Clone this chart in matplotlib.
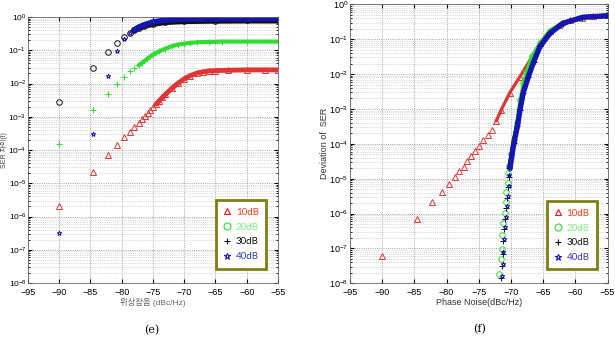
import numpy as np
import matplotlib.pyplot as plt
from matplotlib.lines import Line2D
from matplotlib.ticker import LogLocator, NullFormatter

plt.rcParams['font.family'] = ['Liberation Sans', 'Noto Sans CJK KR', 'DejaVu Sans']
plt.rcParams['mathtext.default'] = 'regular'

# ---------------- data ----------------
labels = ['10dB', '20dB', '30dB', '40dB']
x_ticks = [-95, -90, -85, -80, -75, -70, -65, -60, -55]

# (e) SER difference
e_x_10 = [-90, -84.6, -82.2, -80.7, -79.6, -78.7, -78.0, -77.3, -76.8, -76.3, -75.8, -75.4,
          -75.0, -74.5, -74.0, -73.5, -73.0, -72.0, -71.0, -70.0, -69.0, -68.0, -67.0, -66.0,
          -65.0, -63.0, -60.0, -57.0, -55.0]
e_y_10 = [2.1e-6, 2.2e-5, 7.1e-5, 1.4e-4, 2.4e-4, 3.4e-4, 4.8e-4, 6.6e-4, 8.3e-4, 1.05e-3, 1.3e-3, 1.6e-3,
          1.9e-3, 2.4e-3, 3.0e-3, 3.8e-3, 4.7e-3, 7.1e-3, 1.02e-2, 1.38e-2, 1.74e-2, 2.04e-2, 2.24e-2, 2.4e-2,
          2.45e-2, 2.5e-2, 2.57e-2, 2.57e-2, 2.57e-2]
e_x_20 = [-90, -84.6, -82.2, -80.7, -79.6, -78.7, -78.0, -77.3, -76.8, -76.0, -75.0, -74.0,
          -73.0, -72.0, -71.0, -70.0, -69.0, -68.0, -66.0, -64.0, -60.0, -55.0]
e_y_20 = [1.5e-4, 1.6e-3, 4.8e-3, 1.0e-2, 1.55e-2, 2.3e-2, 2.9e-2, 3.5e-2, 4.1e-2, 5.4e-2, 7.4e-2, 9.3e-2,
          0.112, 0.132, 0.148, 0.158, 0.166, 0.174, 0.178, 0.182, 0.182, 0.182]
e_x_30 = [-90, -84.6, -82.2, -80.7, -79.6, -78.7, -78.0, -77.3, -76.5, -75.0, -73.0, -70.0, -65.0, -60.0, -55.0]
e_y_30 = [2.8e-3, 2.9e-2, 8.7e-2, 0.162, 0.245, 0.33, 0.40, 0.47, 0.54, 0.63, 0.71, 0.76, 0.78, 0.79, 0.79]
e_x_40 = [-90, -84.6, -82.2, -80.7, -79.6, -78.7, -78.0, -77.3, -76.5, -75.0, -73.0, -70.0, -65.0, -60.0, -55.0]
e_y_40 = [3.3e-7, 3.0e-4, 1.7e-2, 9.5e-2, 0.224, 0.324, 0.41, 0.49, 0.575, 0.71, 0.81, 0.87, 0.89, 0.89, 0.89]

# (f) deviation of SER
f_x_10 = [-90, -84.6, -82.2, -80.7, -79.6, -78.7, -78.0, -77.3, -76.8, -76.2, -75.6, -75.0,
          -74.3, -73.6, -73.0, -72.3, -71.5, -70.2, -68.6, -67.0, -65.5, -64.0, -62.5, -60.8,
          -59.0, -57.3, -55.0]
f_y_10 = [6.0e-8, 7.1e-7, 2.1e-6, 4.2e-6, 7.2e-6, 1.12e-5, 1.62e-5, 2.2e-5, 3.2e-5, 4.5e-5, 6.3e-5, 8.9e-5,
          1.32e-4, 1.82e-4, 2.5e-4, 4.5e-4, 9.5e-4, 2.9e-3, 8.5e-3, 2.6e-2, 7.8e-2, 0.178, 0.263, 0.347,
          0.417, 0.468, 0.50]
f_x_20 = [-71.8, -71.6, -71.45, -71.4, -71.2, -71.0, -70.8, -70.7, -70.5, -70.4, -70.3, -70.0,
          -69.6, -69.1, -68.6, -68.1, -67.6, -66.8, -65.5, -64.0, -62.0, -59.0, -55.0]
f_y_20 = [1.86e-8, 4.8e-8, 9.8e-8, 2.5e-7, 5.4e-7, 1.05e-6, 2.1e-6, 4.1e-6, 7.6e-6, 1.45e-5, 2.3e-5, 5.0e-5,
          1.32e-4, 4.0e-4, 1.82e-3, 5.5e-3, 1.17e-2, 3.2e-2, 7.8e-2, 0.178, 0.30, 0.42, 0.49]
f_x_30 = [-71.5, -71.4, -71.3, -71.2, -71.05, -70.9, -70.75, -70.6, -70.45, -70.35, -70.25,
          -69.6, -69.05, -68.6, -68.1, -67.3, -66.5, -65.5, -64.0, -62.0, -59.0, -55.0]
f_y_30 = [1.4e-8, 3.2e-8, 7.1e-8, 1.6e-7, 3.5e-7, 7.1e-7, 1.4e-6, 2.8e-6, 5.6e-6, 1.12e-5, 2.0e-5,
          1.05e-4, 3.2e-4, 9.5e-4, 2.9e-3, 8.5e-3, 2.2e-2, 6.2e-2, 0.148, 0.28, 0.42, 0.47]
f_x_40 = [-71.4, -71.3, -71.2, -71.1, -70.95, -70.8, -70.65, -70.5, -70.35, -70.25, -70.15,
          -69.55, -69.0, -68.6, -68.1, -67.3, -66.5, -65.5, -63.95, -61.9, -58.8, -55.0]
f_y_40 = [1.6e-8, 3.5e-8, 7.9e-8, 1.8e-7, 4.0e-7, 7.9e-7, 1.6e-6, 3.2e-6, 6.3e-6, 1.26e-5, 2.0e-5,
          1.05e-4, 3.2e-4, 9.5e-4, 2.9e-3, 8.5e-3, 2.2e-2, 6.2e-2, 0.148, 0.29, 0.43, 0.47]

# ---------------- styles ----------------
red, green, black, blue = '#f01010', '#30dd30', '#111111', '#1515b0'
text_colors = ['#ff3a10', '#7cf27c', '#111111', '#3535c8']


def draw(ax, xs, ys, markers, colors, sizes, band_from, band_lw):
    for x, y, m, c, s, x0, lw in zip(xs, ys, markers, colors, sizes, band_from, band_lw):
        x = np.asarray(x)
        y = np.asarray(y)
        keep = x >= x0
        ax.plot(x[keep], y[keep], '-', color=c, lw=lw, solid_capstyle='round')
        ax.plot(x, y, ls='none', marker=m, mfc='none', mec=c, ms=s, mew=0.7)


def setup(ax, ysize=6.5):
    ax.set_yscale('log')
    ax.set_xlim(-95, -55)
    ax.set_ylim(1e-8, 1)
    ax.set_xticks(x_ticks)
    ax.yaxis.set_major_locator(LogLocator(base=10, numticks=20))
    ax.yaxis.set_minor_locator(LogLocator(base=10, subs=np.arange(2, 10), numticks=20))
    ax.yaxis.set_minor_formatter(NullFormatter())
    ax.grid(which='major', ls=':', color='#8a8a8a', lw=0.6)
    ax.grid(which='minor', axis='y', ls=':', color='#b8b8b8', lw=0.5)
    ax.tick_params(direction='in', labelsize=6.5, length=3, top=True, right=True)
    ax.tick_params(axis='y', pad=1.2, labelsize=ysize)
    ax.tick_params(axis='x', pad=3.5)
    ax.tick_params(which='minor', direction='in', length=1.5, right=True)
    for s in ax.spines.values():
        s.set_color('#666666')
        s.set_linewidth(0.6)


def add_legend(ax, markers, colors, anchor):
    handles = [Line2D([], [], ls='none', marker=m, mfc='none', mec=c, ms=5, mew=0.8)
               for m, c in zip(markers, colors)]
    leg = ax.legend(handles, labels, loc='lower right', bbox_to_anchor=anchor,
                    labelcolor=text_colors, handlelength=0.8, handletextpad=0.5,
                    labelspacing=0.6, borderpad=0.75, fancybox=False, framealpha=1,
                    prop={'family': 'Lato', 'size': 7})
    leg.get_frame().set_edgecolor('#7f7f10')
    leg.get_frame().set_linewidth(2)


fig = plt.figure(figsize=(6.15, 3.38), dpi=100)
ax1 = fig.add_axes([0.0455, 0.1627, 0.4065, 0.787])
ax2 = fig.add_axes([0.569, 0.162, 0.419, 0.825])

setup(ax1, ysize=6)
draw(ax1, [e_x_10, e_x_20, e_x_30, e_x_40], [e_y_10, e_y_20, e_y_30, e_y_40],
     ['^', '+', 'o', '*'], ['#e03535', green, black, blue], [4, 4, 4, 3.5],
     [-74.5, -77.3, -78.0, -78.0], [3.5, 3.0, 4.5, 4.0])
ax1.set_xlabel('위상잡음 (dBc/Hz)', fontsize=6, color='#666666', labelpad=1)
ax1.set_ylabel('SER 차이(I)', fontsize=5, color='#444444')
ax1.yaxis.set_label_coords(-0.078, 0.5)
add_legend(ax1, ['^', 'o', '+', '*'], [red, green, black, blue], (0.972, 0.036))

setup(ax2)
draw(ax2, [f_x_10, f_x_20, f_x_30, f_x_40], [f_y_10, f_y_20, f_y_30, f_y_40],
     ['^', 'o', '+', '*'], ['#e03535', green, black, blue], [4, 4, 4, 3.5],
     [-72.3, -70.3, -70.25, -70.15], [2.3, 2.3, 3.2, 3.8])
ax2.set_xlabel('Phase Noise(dBc/Hz)', fontsize=6.5, color='#333333', labelpad=1)
ax2.set_ylabel('Deviation of  SER', fontsize=6.5, color='#333333')
ax2.yaxis.set_label_coords(-0.08, 0.5)
add_legend(ax2, ['^', 'o', '+', '*'], [red, green, black, blue], (0.977, 0.032))

fig.text(0.247, 0.024, '(e)', family='DejaVu Serif', fontsize=8, ha='center', va='center')
fig.text(0.78, 0.027, '(f)', family='DejaVu Serif', fontsize=8, ha='center', va='center')

fig.savefig('out.png', dpi=100)
